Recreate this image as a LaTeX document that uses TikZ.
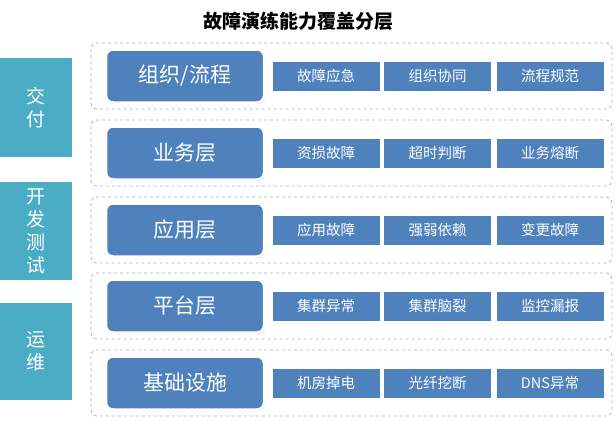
\documentclass[tikz,border=0pt]{standalone}
\usepackage{fontspec}
\newfontfamily\cjk{Noto Sans CJK SC}
\usetikzlibrary{shadows}
\definecolor{teal1}{HTML}{4BACC6}
\definecolor{blue1}{HTML}{4F81BD}
\begin{document}
\begin{tikzpicture}[x=1pt,y=-1pt,
  side/.style={fill=teal1,text=white,font=\cjk\fontsize{19}{23}\selectfont,align=center,inner sep=0pt,minimum width=72pt},
  rowbox/.style={draw=gray!60,dashed,rounded corners=6pt,line width=0.8pt},
  big/.style={fill=blue1,draw=white,line width=2.5pt,rounded corners=7pt,text=white,minimum width=158pt,minimum height=53pt,font=\cjk\fontsize{21}{24}\selectfont,drop shadow={opacity=0.35,shadow xshift=1pt,shadow yshift=-1.5pt}},
  small/.style={fill=blue1,text=white,minimum width=107pt,minimum height=29pt,inner sep=0pt,font=\cjk\fontsize{14.5}{16}\selectfont}]
\useasboundingbox (0,0) rectangle (616,424);
\node[font=\cjk\bfseries\fontsize{19}{22}\selectfont] (title) at (298,21) {故障演练能力覆盖分层};
\node[side,minimum height=99pt] (s1) at (36,107.5) {交\\付};
\node[side,minimum height=98pt] (s2) at (36,231) {开\\发\\测\\试};
\node[side,minimum height=97pt] (s3) at (36,351.5) {运\\维};
\def\rows{{76,153,230,306,383}}
\foreach \i/\b/\x/\y/\z in {0/{组织/流程}/故障应急/组织协同/流程规范,1/业务层/资损故障/超时判断/业务熔断,2/应用层/应用故障/强弱依赖/变更故障,3/平台层/集群异常/集群脑裂/监控漏报,4/基础设施/机房掉电/光纤挖断/DNS异常}{
  \pgfmathsetmacro\yy{\rows[\i]}
  \draw[rowbox] (91,\yy-33) rectangle (612,\yy+33);
  \node[big] (b\i) at (185,\yy) {\b};
  \node[small] (p\i) at (326,\yy) {\x};
  \node[small] (q\i) at (437.5,\yy) {\y};
  \node[small] (r\i) at (550,\yy) {\z};
}
\end{tikzpicture}
\end{document}
